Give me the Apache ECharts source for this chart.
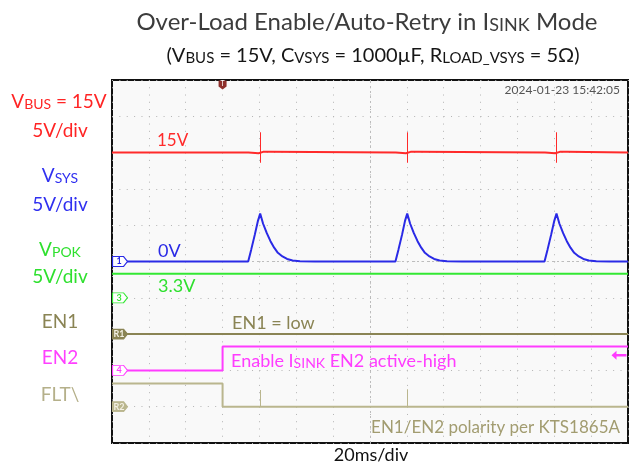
<!DOCTYPE html>
<html>
<head>
<meta charset="utf-8">
<script src="https://cdn.jsdelivr.net/npm/echarts@6/dist/echarts.min.js"></script>
<style>
  html, body { margin: 0; background: #fff; }
  #main { width: 629px; height: 466px; }
</style>
</head>
<body>
<div id="main"></div>
<script>
// scope time base: 20 ms/div, 14 div, trigger (T) at 3rd division
var timeMin = -60, timeMax = 220, timeStep = 20;
var divMin = -5, divMax = 5;

// traces, [time ms, volts]
var vbus = [[-60, 15], [14, 15], [15, 14.9], [19.5, 14.9], [20.4, 15], [22, 15.1], [26, 15.1], [27, 15],
  [94, 15], [95, 14.9], [99.5, 14.9], [100.3, 15], [102, 15.1], [106, 15.1], [107, 15],
  [175, 15], [176, 14.9], [180.5, 14.9], [181.3, 15], [183, 15.1], [187, 15.1], [188, 15], [220, 15]];
// short glitches on VBUS: [time, top V, bottom V]
var vbusSpikes = [[20.4, 17.8, 13.6], [100.3, 17.8, 13.6], [181.3, 17.8, 13.6]];
var vsys = [[-60, 0], [13.9, 0], [15.5, 1.6], [17.5, 3.7], [19.2, 5.6], [20.4, 6.6], [22, 5.2], [24, 3.9],
  [26, 2.8], [28, 1.9], [30, 1.2], [32.5, 0.7], [35, 0.35], [38, 0.15], [42, 0.05], [50, 0],
  [93.8, 0], [95.4, 1.6], [97.4, 3.7], [99, 5.6], [100.2, 6.6], [101.8, 5.2], [103.8, 3.9], [105.8, 2.8],
  [107.8, 1.9], [109.8, 1.2], [112.3, 0.7], [114.8, 0.35], [117.8, 0.15], [121.8, 0.05], [130, 0],
  [174.7, 0], [176.3, 1.6], [178.3, 3.7], [180, 5.6], [181.2, 6.6], [182.8, 5.2], [184.8, 3.9], [186.8, 2.8],
  [188.8, 1.9], [190.8, 1.2], [193.3, 0.7], [195.8, 0.35], [198.8, 0.15], [202.8, 0.05], [210, 0], [220, 0]];
var vpok = [[-60, 3.3], [220, 3.3]];
var en1 = [[-60, 0], [220, 0]];
var en2 = [[-60, 0], [0, 0], [0, 3.3], [220, 3.3]];
var flt = [[-60, 3.2], [0, 3.2], [0, 0], [220, 0]];
// FLT glitches: [time, top V]
var fltSpikes = [[20.4, 2.3], [100.4, 2.4]];
var en2TrigLevel = 2.1;

// channel ground position (div) and scale (V/div)
var chOffset = { vbus: 0, vsys: 0, vpok: -1, en1: -2, en2: -3, flt: -4 };
var chScale = { vbus: 5, vsys: 5, vpok: 5, en1: 5, en2: 5, flt: 5 };
var chColor = { vbus: '#ff2a2a', vsys: '#2a2ae6', vpok: '#33e833', en1: '#8a8454', en2: '#ff3cff', flt: '#bab68e' };
var chTag = { vsys: '1', vpok: '3', en1: 'R1', en2: '4', flt: 'R2' };
var tagFilled = { en1: true, flt: true };

var FONT = 'Lato';

function toDiv(key, v) { return chOffset[key] + v / chScale[key]; }

function trace(key, data, z) {
  var s = {
    type: 'line',
    name: key,
    data: data.map(function (p) { return [p[0], toDiv(key, p[1])]; }),
    showSymbol: false,
    symbol: 'none',
    lineStyle: { color: chColor[key], width: 2 },
    itemStyle: { color: chColor[key] },
    z: z,
    silent: true,
    animation: false
  };
  if (chTag[key]) {
    var filled = tagFilled[key];
    s.markPoint = {
      silent: true,
      animation: false,
      z: 10,
      data: [{
        coord: [timeMin, chOffset[key]],
        symbol: 'path://M0,0 L11,0 L15,5 L11,10 L0,10 Z',
        symbolSize: [15, 10],
        symbolOffset: [8, 0],
        itemStyle: { color: filled ? chColor[key] : '#ffffff', borderColor: chColor[key], borderWidth: 1 },
        label: {
          show: true, position: 'inside', formatter: chTag[key], offset: [-1, 0],
          color: filled ? '#f4f1e4' : chColor[key], fontSize: 9, fontWeight: 'bold', fontFamily: FONT
        }
      }]
    };
  }
  return s;
}

function spikeLines(key, list) {
  return {
    silent: true, animation: false, symbol: 'none', label: { show: false }, z: 3,
    lineStyle: { color: chColor[key], width: 1, type: 'solid' },
    data: list.map(function (s) {
      var lo = s.length > 2 ? s[2] : 0;
      return [{ coord: [s[0], toDiv(key, s[1])] }, { coord: [s[0], toDiv(key, lo)] }];
    })
  };
}

var vbusSeries = trace('vbus', vbus, 3);
vbusSeries.markLine = spikeLines('vbus', vbusSpikes);
vbusSeries.markPoint = {
  silent: true, animation: false, z: 10,
  data: [{
    coord: [0, divMax],
    symbol: 'path://M0,0 L8,0 L8,6 L4,9 L0,6 Z',
    symbolSize: [8, 9],
    symbolOffset: [0, 5],
    itemStyle: { color: '#8e2f2b' },
    label: { show: true, position: 'inside', formatter: 'T', color: '#fff', fontSize: 7, fontFamily: FONT, offset: [0, -1] }
  }]
};
var fltSeries = trace('flt', flt, 2);
fltSeries.markLine = spikeLines('flt', fltSpikes);
var en2Series = trace('en2', en2, 3);
en2Series.markPoint.data.push({
  coord: [timeMax, toDiv('en2', en2TrigLevel)],
  symbol: 'path://M0,5 L5,0 L5,3.6 L15,3.6 L15,6.4 L5,6.4 L5,10 Z',
  symbolSize: [15, 9],
  symbolOffset: [-9, 0],
  itemStyle: { color: chColor.en2, borderWidth: 0 },
  label: { show: false }
});

// centre cross of the graticule
var gridCentre = {
  type: 'line', data: [], silent: true, animation: false, z: 1,
  markLine: {
    silent: true, animation: false, symbol: 'none', label: { show: false }, z: 1,
    lineStyle: { color: '#bdbdbd', width: 1, type: [2, 3] },
    data: [{ xAxis: (timeMin + timeMax) / 2 }, { yAxis: (divMin + divMax) / 2 }]
  }
};

function txt(x, y, text, color, size, align, extra) {
  var st = { text: text, fill: color, font: (extra && extra.weight ? extra.weight + ' ' : '') + size + 'px ' + FONT,
    fontFamily: FONT, fontSize: size, align: align || 'left', textAlign: align || 'left',
    verticalAlign: 'middle', textVerticalAlign: 'middle' };
  if (extra && extra.rich) st.rich = extra.rich;
  return { type: 'text', x: x, y: y, z: 100, silent: true, style: st };
}

function subRich(size, color, subSize, drop) {
  return {
    m: { fontFamily: FONT, fontSize: size, lineHeight: size, color: color, verticalAlign: 'bottom' },
    s: { fontFamily: FONT, fontSize: subSize, lineHeight: size - 2 * drop, color: color, verticalAlign: 'bottom' }
  };
}

function capsRich(size, color, scSize, scLine) {
  return {
    m: { fontFamily: FONT, fontSize: size, lineHeight: size, color: color, verticalAlign: 'bottom' },
    s: { fontFamily: FONT, fontSize: scSize, lineHeight: scLine, color: color, verticalAlign: 'bottom' }
  };
}

var chart = echarts.init(document.getElementById('main'), null, { renderer: 'canvas' });
chart.setOption({
  animation: false,
  backgroundColor: '#ffffff',
  grid: {
    left: 112, top: 80, right: 1, bottom: 23,
    show: true, backgroundColor: '#f9f9f9', borderColor: '#111', borderWidth: 2,
    containLabel: false
  },
  xAxis: {
    type: 'value', min: timeMin, max: timeMax, interval: timeStep,
    axisLine: { show: false }, axisTick: { show: false }, axisLabel: { show: false },
    splitLine: { show: true, lineStyle: { color: '#b4b4b4', width: 1, type: [1, 6.26] } }
  },
  yAxis: {
    type: 'value', min: divMin, max: divMax, interval: 1,
    axisLine: { show: false }, axisTick: { show: false }, axisLabel: { show: false },
    splitLine: { show: true, lineStyle: { color: '#b4b4b4', width: 1, type: [1, 6.37] } }
  },
  series: [
    gridCentre,
    trace('vpok', vpok, 2),
    trace('en1', en1, 2),
    fltSeries,
    en2Series,
    vbusSeries,
    trace('vsys', vsys, 4)
  ],
  graphic: [
    // title + conditions
    txt(367, 22, '{m|Over-Load Enable/Auto-Retry in I}{s|SINK}{m| Mode}', '#3c3c3c', 24, 'center',
      { rich: capsRich(24, '#3c3c3c', 18, 20) }),
    txt(373, 56, '{m|(V}{s|BUS}{m| = 15V, C}{s|VSYS}{m| = 1000µF, R}{s|LOAD_VSYS}{m| = 5Ω)}', '#161616', 20, 'center',
      { rich: capsRich(20, '#161616', 15, 17) }),
    // channel legend on the left
    txt(59, 102, '{m|V}{s|BUS}{m| = 15V}', '#ff2424', 19, 'center', { rich: subRich(19, '#ff2424', 14, 3) }),
    txt(60, 131, '5V/div', '#ff2424', 19, 'center'),
    txt(60, 176, '{m|V}{s|SYS}', '#3030f0', 19, 'center', { rich: subRich(19, '#3030f0', 14, 3) }),
    txt(60, 205, '5V/div', '#3030f0', 19, 'center'),
    txt(60, 250, '{m|V}{s|POK}', '#2ee02e', 19, 'center', { rich: subRich(19, '#2ee02e', 14, 3) }),
    txt(60, 277, '5V/div', '#2ee02e', 19, 'center'),
    txt(60, 322, 'EN1', '#8a8454', 19, 'center'),
    txt(60, 358, 'EN2', '#ff40ff', 19, 'center'),
    txt(60, 395, 'FLT\\', '#b5b08a', 19, 'center'),
    // on-screen annotations
    txt(157, 141, '15V', '#ff2a2a', 17),
    txt(158, 251, '0V', '#2a2ae6', 18),
    txt(158, 286, '3.3V', '#2ee02e', 18, 'left', { weight: 'bold' }),
    txt(232, 323, 'EN1 = low', '#8a8454', 18),
    txt(231, 361, '{m|Enable I}{s|SINK}{m| EN2 active-high}', '#ff3cff', 18, 'left',
      { rich: capsRich(18, '#ff3cff', 14, 15) }),
    txt(620, 428, 'EN1/EN2 polarity per KTS1865A', '#a29c70', 17, 'right'),
    txt(620, 90, '2024-01-23 15:42:05', '#555555', 12, 'right'),
    txt(371, 455, '20ms/div', '#111111', 18, 'center')
  ]
});
</script>
</body>
</html>
